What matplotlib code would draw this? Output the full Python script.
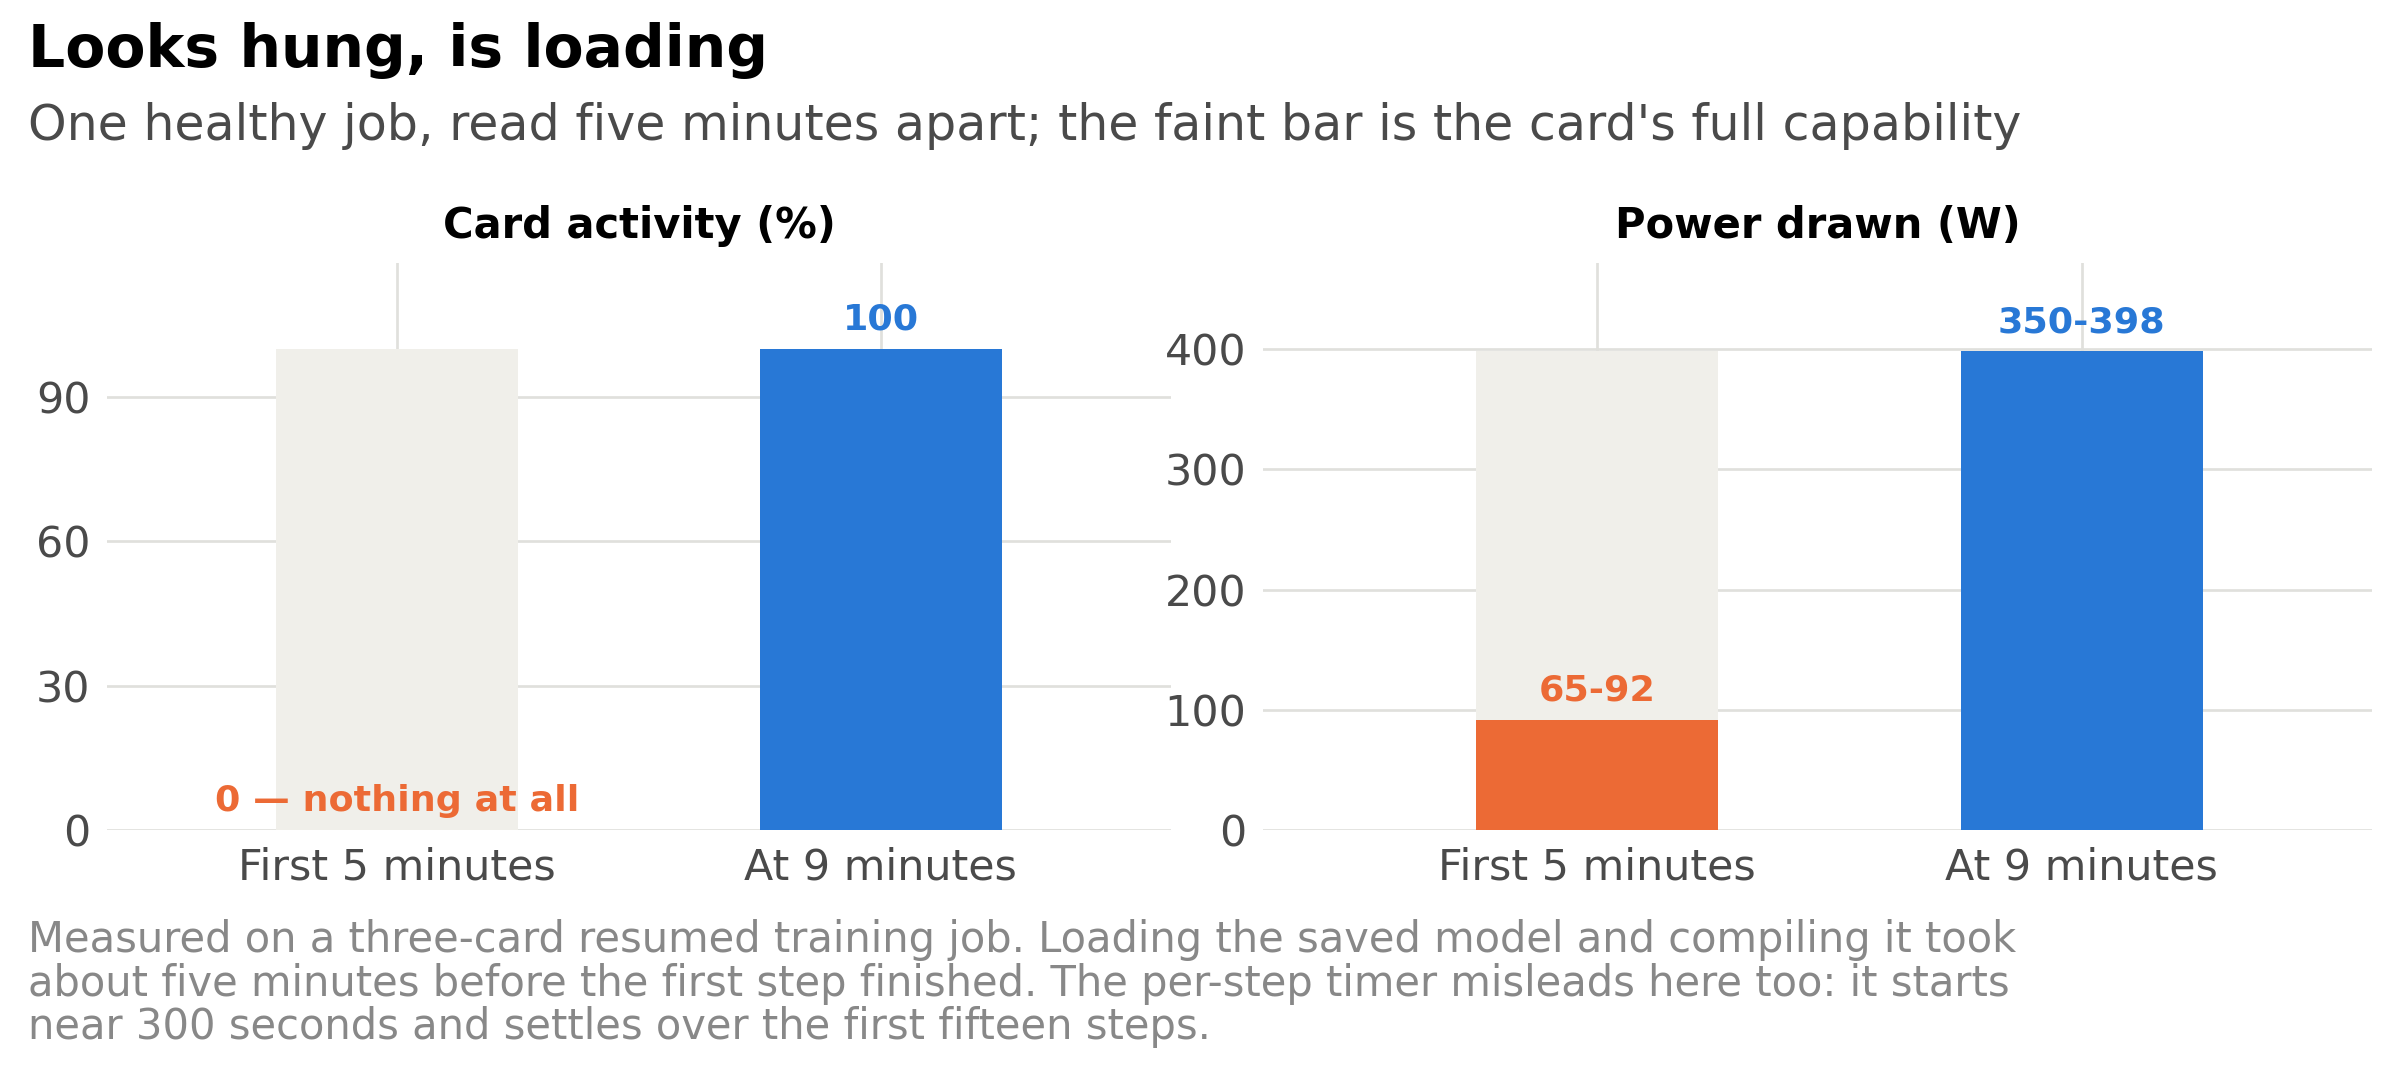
import matplotlib
matplotlib.use("Agg")
import matplotlib.pyplot as plt

categories = ["First 5 minutes", "At 9 minutes"]
activity = [0, 100]
activity_cap = [100, 100]
power = [92, 398]
power_cap = [398, 398]
activity_labels = ["0 — nothing at all", "100"]
power_labels = ["65-92", "350-398"]
activity_ticks = [0, 30, 60, 90]
power_ticks = [0, 100, 200, 300, 400]

BLUE = "#2878d6"; ORANGE = "#ec6a35"; FAINT = "#f0efea"; GRID = "#e0e0dc"
TXT = "#4a4a4a"

fig = plt.figure(figsize=(16, 7.2), dpi=150)
fig.patch.set_facecolor("white")
ax1 = fig.add_axes([70/1568, 1-542/705, 695/1568, 370/705])
ax2 = fig.add_axes([825/1568, 1-542/705, 725/1568, 370/705])

def draw(ax, vals, cap, labels, ticks, ylim, xlim, title, colors, label_y):
    x = range(len(vals))
    ax.bar(x, cap, width=0.5, color=FAINT, zorder=2)
    ax.bar(x, vals, width=0.5, color=colors, zorder=3)
    ax.set_xlim(*xlim)
    ax.set_ylim(0, ylim)
    ax.set_yticks(ticks)
    ax.set_xticks(list(x))
    ax.set_xticklabels(categories)
    ax.grid(True, color=GRID, linewidth=1.3, zorder=0)
    for s in ax.spines.values():
        s.set_visible(False)
    ax.tick_params(length=0, labelsize=20.5, colors=TXT, pad=8)
    ax.set_title(title, fontsize=20, fontweight="bold", pad=12)
    for i, (lab, ly) in enumerate(zip(labels, label_y)):
        ax.text(i, ly, lab, ha="center", va="bottom", fontsize=17.5,
                fontweight="bold", color=colors[i], zorder=4)

draw(ax1, activity, activity_cap, activity_labels, activity_ticks, 117.7,
     (-0.6, 1.6), "Card activity (%)", [ORANGE, BLUE], [2.5, 102.5])
draw(ax2, power, power_cap, power_labels, power_ticks, 471,
     (-0.69, 1.6), "Power drawn (W)", [ORANGE, BLUE], [102, 408])

fig.text(18/1568, 1-33/705, "Looks hung, is loading", fontsize=28,
         fontweight="bold", va="center")
fig.text(18/1568, 1-82/705,
         "One healthy job, read five minutes apart; the faint bar is the card's full capability",
         fontsize=23.5, color=TXT, va="center")
fig.text(18/1568, 1-600/705,
         "Measured on a three-card resumed training job. Loading the saved model and compiling it took\n"
         "about five minutes before the first step finished. The per-step timer misleads here too: it starts\n"
         "near 300 seconds and settles over the first fifteen steps.",
         fontsize=20, color="#888888", va="top", linespacing=1.05)

fig.savefig("out.png", dpi=150)
